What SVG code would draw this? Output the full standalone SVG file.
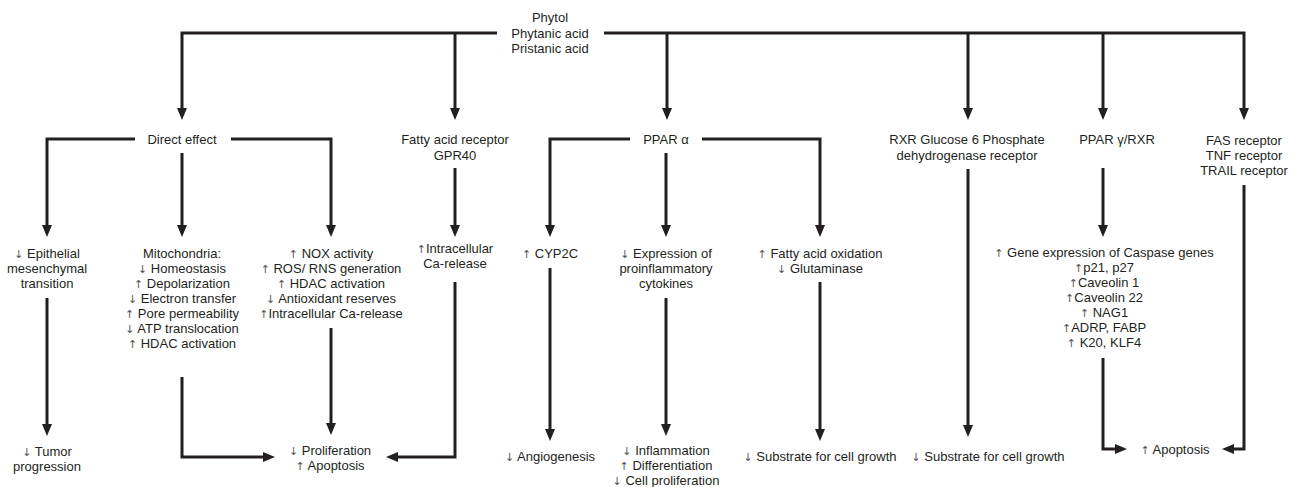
<svg xmlns="http://www.w3.org/2000/svg" width="1295" height="487" viewBox="0 0 1295 487">
<style>
text{font-family:"Liberation Sans",Arial,sans-serif;font-size:13px;fill:#231f20;text-anchor:middle}
.r{font-family:"DejaVu Sans",sans-serif;font-size:11px;fill:#555}
.c path{fill:none;stroke:#231f20;stroke-width:3;stroke-linejoin:miter}
</style>
<defs>
<marker id="a" markerUnits="userSpaceOnUse" markerWidth="12" markerHeight="10" refX="4" refY="5" orient="auto">
<path d="M0,0 L12,5 L0,10 z" fill="#231f20"/>
</marker>
</defs>
<rect width="1295" height="487" fill="#fff"/>
<g class="c" id="connectors">
<path d="M497,33 H182 V112" marker-end="url(#a)"/>
<path d="M455,33 V112" marker-end="url(#a)"/>
<path d="M604,33 H1244 V112" marker-end="url(#a)"/>
<path d="M667,33 V112" marker-end="url(#a)"/>
<path d="M968,33 V112" marker-end="url(#a)"/>
<path d="M1103,33 V112" marker-end="url(#a)"/>
<path d="M135,139 H47 V229" marker-end="url(#a)"/>
<path d="M182,153 V229" marker-end="url(#a)"/>
<path d="M231,139 H331 V229" marker-end="url(#a)"/>
<path d="M455,168 V229" marker-end="url(#a)"/>
<path d="M630,139 H550 V229" marker-end="url(#a)"/>
<path d="M666,153 V229" marker-end="url(#a)"/>
<path d="M702,139 H820 V229" marker-end="url(#a)"/>
<path d="M968,169 V429" marker-end="url(#a)"/>
<path d="M1103,168 V229" marker-end="url(#a)"/>
<path d="M47,298 V428" marker-end="url(#a)"/>
<path d="M182,377 V457 H267" marker-end="url(#a)"/>
<path d="M331,328 V427" marker-end="url(#a)"/>
<path d="M455,282 V457 H394" marker-end="url(#a)"/>
<path d="M550,268 V433" marker-end="url(#a)"/>
<path d="M666,298 V428" marker-end="url(#a)"/>
<path d="M820,282 V433" marker-end="url(#a)"/>
<path d="M1103,358 V449 H1119" marker-end="url(#a)"/>
<path d="M1244,185 V449 H1230" marker-end="url(#a)"/>
</g>
<g id="source"><text x="550" y="22">Phytol</text><text x="550" y="38">Phytanic acid</text><text x="550" y="53">Pristanic acid</text></g>
<g id="direct"><text x="182" y="144">Direct effect</text></g>
<g id="gpr40"><text x="455" y="144">Fatty acid receptor</text><text x="455" y="160">GPR40</text></g>
<g id="ppara"><text x="666" y="144">PPAR α</text></g>
<g id="rxr"><text x="967" y="144">RXR Glucose 6 Phosphate</text><text x="967" y="160">dehydrogenase receptor</text></g>
<g id="pparg"><text x="1117" y="144">PPAR γ/RXR</text></g>
<g id="fas"><text x="1244" y="145">FAS receptor</text><text x="1244" y="160">TNF receptor</text><text x="1244" y="175">TRAIL receptor</text></g>
<g id="emt"><text x="47" y="258"><tspan class="r">↓</tspan> Epithelial</text><text x="47" y="273">mesenchymal</text><text x="47" y="288">transition</text></g>
<g id="mito"><text x="182" y="258">Mitochondria:</text><text x="182" y="273"><tspan class="r">↓</tspan> Homeostasis</text><text x="182" y="288"><tspan class="r">↑</tspan> Depolarization</text><text x="182" y="303"><tspan class="r">↓</tspan> Electron transfer</text><text x="182" y="318"><tspan class="r">↑</tspan> Pore permeability</text><text x="182" y="333"><tspan class="r">↓</tspan> ATP translocation</text><text x="182" y="348"><tspan class="r">↑</tspan> HDAC  activation</text></g>
<g id="nox"><text x="331" y="258"><tspan class="r">↑</tspan> NOX activity</text><text x="331" y="273"><tspan class="r">↑</tspan> ROS/ RNS generation</text><text x="331" y="288"><tspan class="r">↑</tspan> HDAC activation</text><text x="331" y="303"><tspan class="r">↓</tspan> Antioxidant reserves</text><text x="331" y="318"><tspan class="r">↑</tspan>Intracellular Ca-release</text></g>
<g id="ca"><text x="455" y="253"><tspan class="r">↑</tspan>Intracellular</text><text x="455" y="268">Ca-release</text></g>
<g id="cyp"><text x="550" y="258"><tspan class="r">↑</tspan> CYP2C</text></g>
<g id="expr"><text x="666" y="258"><tspan class="r">↓</tspan> Expression of</text><text x="666" y="273">proinflammatory</text><text x="666" y="288">cytokines</text></g>
<g id="fao"><text x="820" y="258"><tspan class="r">↑</tspan> Fatty acid oxidation</text><text x="820" y="273"><tspan class="r">↓</tspan> Glutaminase</text></g>
<g id="genes"><text x="1104" y="257"><tspan class="r">↑</tspan> Gene expression of Caspase genes</text><text x="1104" y="272"><tspan class="r">↑</tspan>p21, p27</text><text x="1104" y="287"><tspan class="r">↑</tspan>Caveolin 1</text><text x="1104" y="302"><tspan class="r">↑</tspan>Caveolin 22</text><text x="1104" y="317"><tspan class="r">↑</tspan> NAG1</text><text x="1104" y="332"><tspan class="r">↑</tspan>ADRP, FABP</text><text x="1104" y="347"><tspan class="r">↑</tspan> K20, KLF4</text></g>
<g id="tumor"><text x="47" y="456"><tspan class="r">↓</tspan> Tumor</text><text x="47" y="471">progression</text></g>
<g id="prolif"><text x="330" y="455"><tspan class="r">↓</tspan> Proliferation</text><text x="330" y="470"><tspan class="r">↑</tspan> Apoptosis</text></g>
<g id="angio"><text x="550" y="461"><tspan class="r">↓</tspan> Angiogenesis</text></g>
<g id="inflam"><text x="666" y="455"><tspan class="r">↓</tspan> Inflammation</text><text x="666" y="470"><tspan class="r">↑</tspan> Differentiation</text><text x="666" y="485"><tspan class="r">↓</tspan> Cell proliferation</text></g>
<g id="substrate1"><text x="820" y="461"><tspan class="r">↓</tspan> Substrate for cell growth</text></g>
<g id="substrate2"><text x="988" y="461"><tspan class="r">↓</tspan> Substrate for cell growth</text></g>
<g id="apoptosis"><text x="1175" y="454"><tspan class="r">↑</tspan> Apoptosis</text></g>
</svg>
